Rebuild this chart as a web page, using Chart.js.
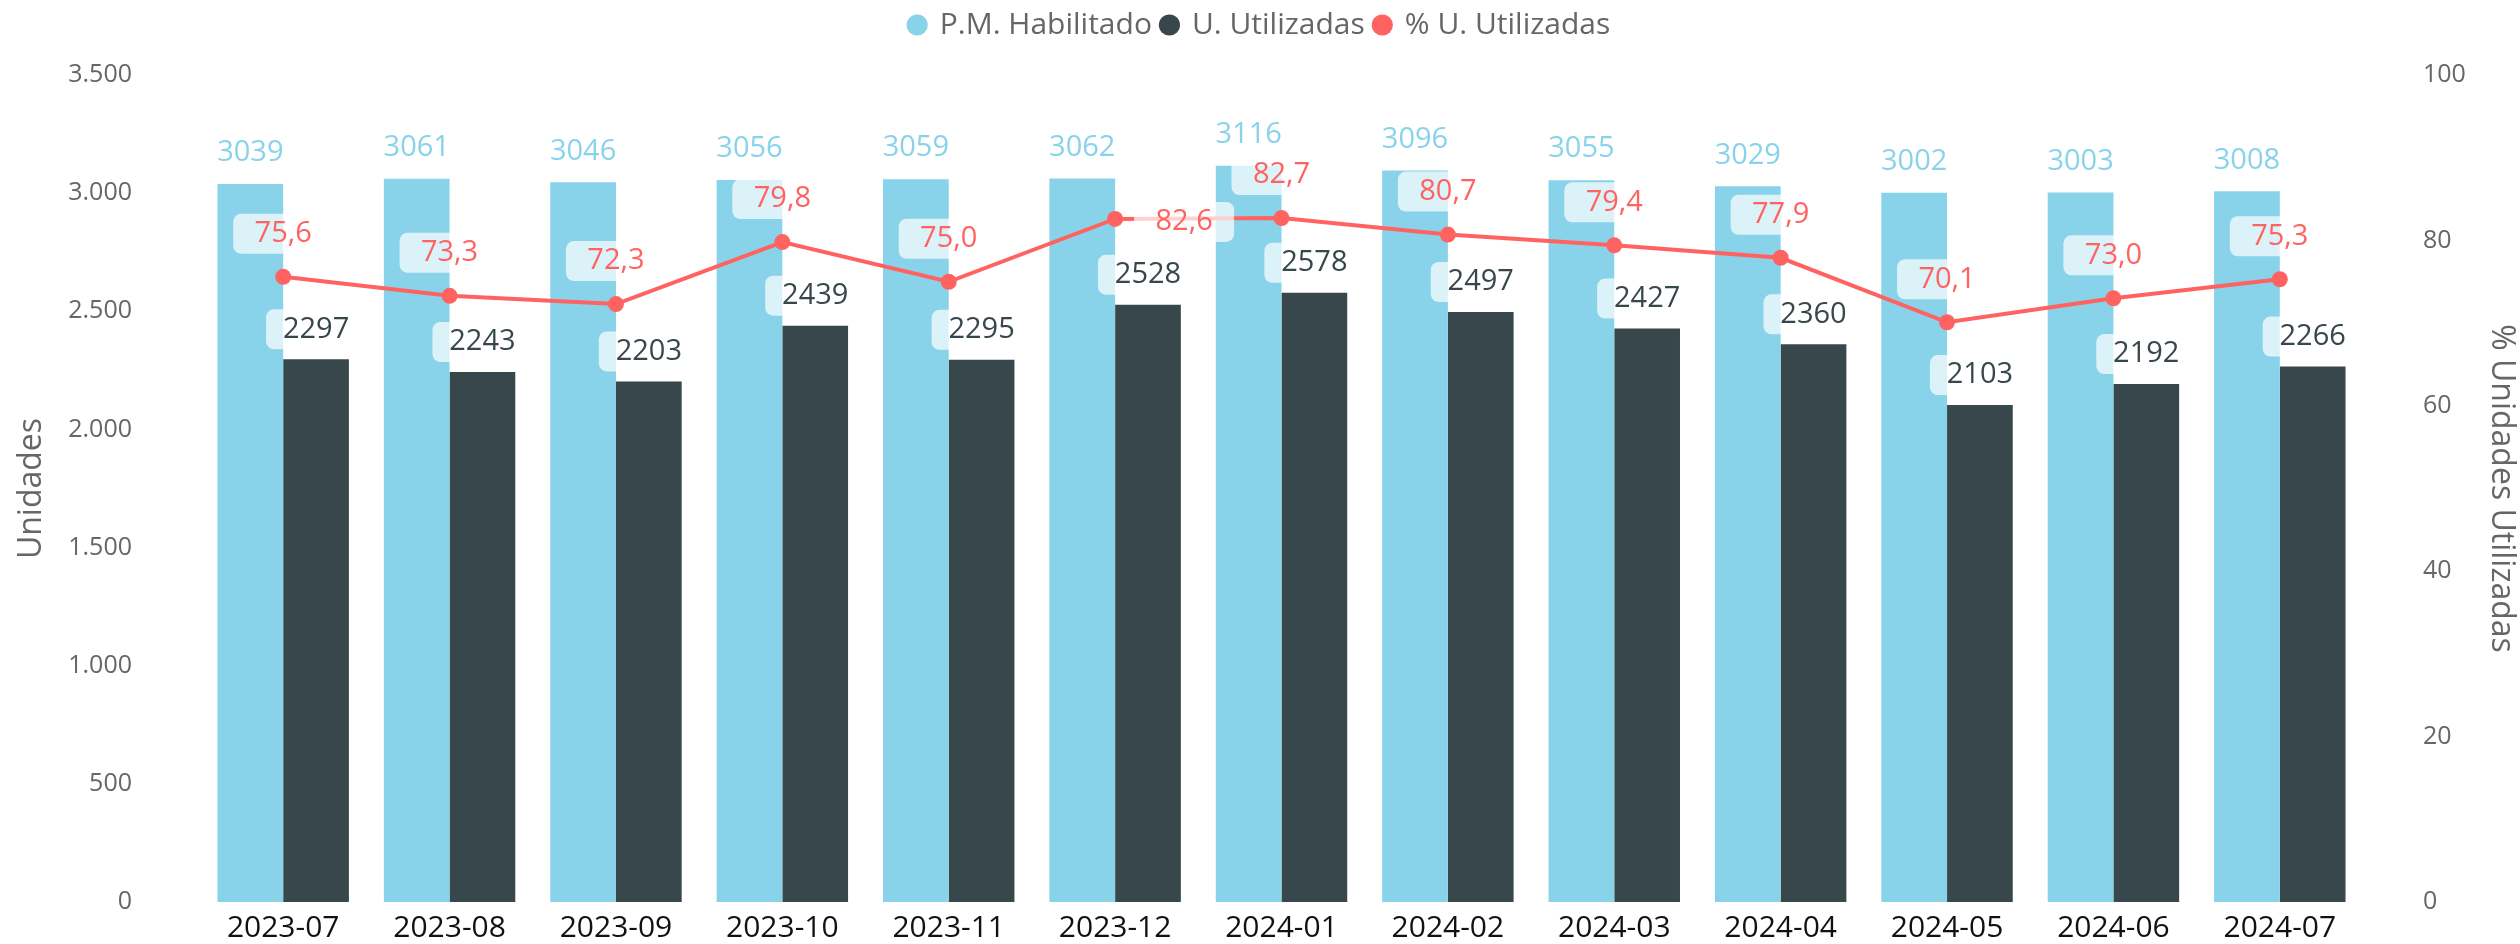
<!DOCTYPE html>
<html lang="es">
<head>
<meta charset="UTF-8">
<title>P.M. Habilitado y U. Utilizadas</title>
<script src="https://cdn.jsdelivr.net/npm/chart.js"></script>
<style>
  html, body { margin: 0; padding: 0; background: #fff; }
  #wrap { width: 2520px; height: 944px; }
</style>
</head>
<body>
<div id="wrap"><canvas id="grafico"></canvas></div>
<script>
// datos
const meses = ['2023-07', '2023-08', '2023-09', '2023-10', '2023-11', '2023-12', '2024-01',
               '2024-02', '2024-03', '2024-04', '2024-05', '2024-06', '2024-07'];
const habilitado = [3039, 3061, 3046, 3056, 3059, 3062, 3116, 3096, 3055, 3029, 3002, 3003, 3008];
const utilizadas = [2297, 2243, 2203, 2439, 2295, 2528, 2578, 2497, 2427, 2360, 2103, 2192, 2266];
const porcentaje = [75.6, 73.3, 72.3, 79.8, 75.0, 82.6, 82.7, 80.7, 79.4, 77.9, 70.1, 73.0, 75.3];

const AZUL = '#89D3EA';
const OSCURO = '#38474C';
const ROJO = '#FF6361';
const GRIS = '#666666';
const FUENTE = "'Open Sans', sans-serif";

Chart.defaults.font.family = FUENTE;
Chart.defaults.color = GRIS;

function miles(v) {
    return String(v).replace(/\B(?=(\d{3})+(?!\d))/g, '.');
}
function coma(v) {
    return v.toFixed(1).replace('.', ',');
}

// etiqueta de 82,6 va a la derecha para no chocar con la de 82,7
const ladoDerecha = new Set([5]);

const etiquetas = {
    id: 'etiquetas',
    afterDatasetsDraw(chart) {
        const ctx = chart.ctx;
        ctx.save();
        ctx.font = '29px ' + FUENTE;
        ctx.textAlign = 'center';
        ctx.textBaseline = 'middle';
        const caja = (cx, cy) => {
            ctx.fillStyle = 'rgba(255,255,255,0.7)';
            ctx.beginPath();
            ctx.roundRect(cx - 50, cy - 20, 100, 40, 8);
            ctx.fill();
        };
        chart.getDatasetMeta(0).data.forEach((bar, i) => {
            ctx.fillStyle = AZUL;
            ctx.fillText(habilitado[i], bar.x, bar.y - 31);
        });
        chart.getDatasetMeta(1).data.forEach((bar, i) => {
            caja(bar.x, bar.y - 30);
            ctx.fillStyle = OSCURO;
            ctx.fillText(utilizadas[i], bar.x, bar.y - 30);
        });
        chart.getDatasetMeta(2).data.forEach((pt, i) => {
            let cx = pt.x, cy = pt.y - 43;
            if (ladoDerecha.has(i)) { cx = pt.x + 69; cy = pt.y + 3; }
            caja(cx, cy);
            ctx.fillStyle = ROJO;
            ctx.fillText(coma(porcentaje[i]), cx, cy);
        });
        ctx.restore();
    }
};

const espacioLeyenda = {
    id: 'espacioLeyenda',
    beforeInit(chart) {
        const fit = chart.legend.fit;
        chart.legend.fit = function () {
            fit.call(this);
            this.height = 75;
        };
    }
};

// ejes verticales: ancho fijo y sin margen extra arriba/abajo
function ajusteVertical(ancho) {
    return axis => {
        axis.width = ancho;
        axis.paddingTop = 0;
        axis.paddingBottom = 0;
    };
}

new Chart(document.getElementById('grafico'), {
    type: 'bar',
    data: {
        labels: meses,
        datasets: [
            {
                label: 'P.M. Habilitado',
                data: habilitado,
                backgroundColor: AZUL,
                borderWidth: 0,
                yAxisID: 'y',
                order: 1
            },
            {
                label: 'U. Utilizadas',
                data: utilizadas,
                backgroundColor: OSCURO,
                borderWidth: 0,
                yAxisID: 'y',
                order: 1
            },
            {
                type: 'line',
                label: '% U. Utilizadas',
                data: porcentaje,
                borderColor: ROJO,
                backgroundColor: ROJO,
                borderWidth: 4,
                pointRadius: 8,
                pointHoverRadius: 8,
                pointBackgroundColor: ROJO,
                pointBorderWidth: 0,
                tension: 0,
                yAxisID: 'y1',
                order: 0
            }
        ]
    },
    options: {
        responsive: true,
        maintainAspectRatio: false,
        animation: false,
        layout: { padding: 0 },
        datasets: {
            bar: { barPercentage: 1, categoryPercentage: 0.79 }
        },
        plugins: {
            tooltip: { enabled: false },
            legend: {
                position: 'top',
                labels: {
                    usePointStyle: true,
                    pointStyle: 'circle',
                    boxWidth: 15,
                    boxHeight: 15,
                    padding: 10,
                    color: GRIS,
                    font: { size: 30 },
                    sort: (a, b) => a.datasetIndex - b.datasetIndex
                }
            }
        },
        scales: {
            x: {
                grid: { display: false, drawTicks: false },
                border: { display: false },
                ticks: { color: '#111111', font: { size: 30 }, padding: 8, maxRotation: 0 },
                afterFit(axis) { axis.height = 42; }
            },
            y: {
                position: 'left',
                min: 0,
                max: 3500,
                grid: { display: false, drawTicks: false },
                border: { display: false },
                ticks: {
                    stepSize: 500,
                    color: GRIS,
                    font: { size: 25 },
                    padding: 68,
                    callback: v => miles(v)
                },
                title: {
                    display: true,
                    text: 'Unidades',
                    color: GRIS,
                    font: { size: 32 },
                    padding: { top: 13, bottom: 0 }
                },
                afterFit: ajusteVertical(200)
            },
            y1: {
                position: 'right',
                min: 0,
                max: 100,
                grid: { display: false, drawTicks: false },
                border: { display: false },
                ticks: {
                    stepSize: 20,
                    color: GRIS,
                    font: { size: 25 },
                    padding: 60
                },
                title: {
                    display: true,
                    text: '% Unidades Utilizadas',
                    color: GRIS,
                    font: { size: 32 },
                    padding: { top: 0, bottom: 0 }
                },
                afterFit: ajusteVertical(157)
            }
        }
    },
    plugins: [espacioLeyenda, etiquetas]
});
</script>
</body>
</html>
